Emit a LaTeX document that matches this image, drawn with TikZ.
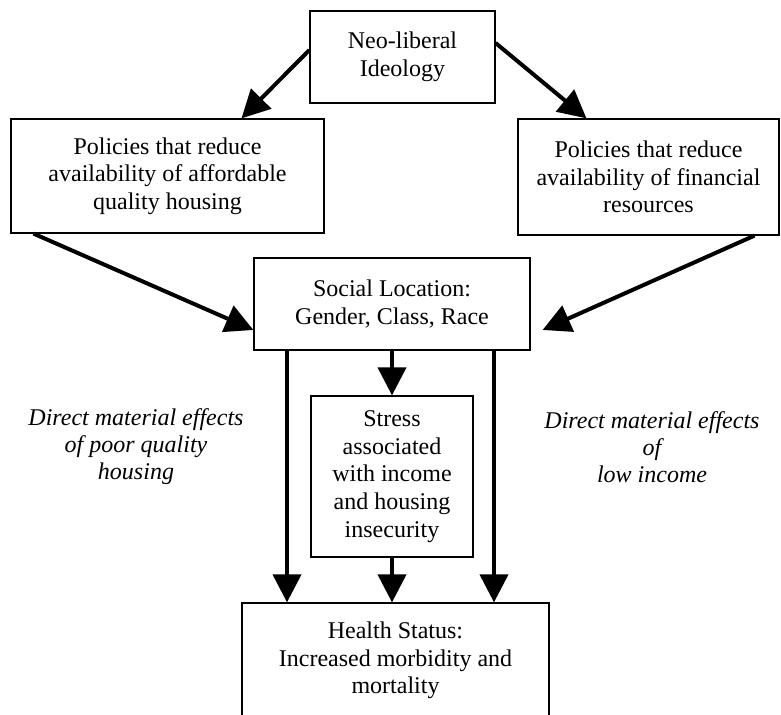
\documentclass[tikz,border=0pt]{standalone}
\usepackage{fontspec}
\setmainfont{Liberation Serif}
\usepackage{tikz}
\usetikzlibrary{shapes,arrows.meta}
\tikzstyle{box} = [rectangle, draw, line width=0.6pt, align=center, inner sep=2pt]
\tikzstyle{effect} = [align=center, font=\fontsize{12}{13.5}\selectfont\itshape]
\tikzstyle{line} = [draw, line width=2pt, -{Triangle[length=14pt,width=14pt]}]

\begin{document}
\begin{tikzpicture}[node distance = 2cm, font=\fontsize{12}{13.8}\selectfont]
    \useasboundingbox (0,0) rectangle (390.5pt,-357.5pt);
    % Place nodes
    \node [box, minimum width=92.5pt, minimum height=46pt] (ideo) at (201.25pt,-28.5pt) {Neo-liberal\\Ideology};
    \node [box, below of=ideo, node distance=59.5pt, xshift=-117.5pt, minimum width=156.5pt, minimum height=57pt] (house) {Policies that reduce\\availability of affordable\\quality housing};
    \node [box, below of=ideo, node distance=60pt, xshift=123pt, minimum width=130.5pt, minimum height=58pt] (money) {Policies that reduce\\availability of financial\\resources};
    \node [box, below of=ideo, node distance=123.5pt, xshift=-5.25pt, minimum width=138pt, minimum height=46pt] (social) {Social Location:\\Gender, Class, Race};
    \node [box, below of=social, node distance=86.25pt, minimum width=81pt, minimum height=80.5pt] (stress) {Stress\\associated\\with income\\and housing\\insecurity};
    \node [box, below of=stress, node distance=92pt, xshift=1.75pt, minimum width=153.5pt, minimum height=57.5pt] (health) {Health Status:\\Increased morbidity and\\mortality};
    \node [effect, left of=stress, node distance=128pt, yshift=14.75pt] (poorhousing) {Direct material effects\\of poor quality\\housing};
    \node [effect, right of=stress, node distance=130pt, yshift=14.75pt] (lowincome) {Direct material effects\\of\\low income};
    \coordinate (sl) at ([xshift=-52.5pt]social.south);
    \coordinate (sr) at ([xshift=51pt]social.south);

    % Draw edges
    \path [line] ([yshift=3.5pt]ideo.west) -- ([xshift=37pt]house.north);
    \path [line] ([yshift=7pt]ideo.east) -- ([xshift=-31pt]money.north);
    \path [line] ([xshift=-67pt]house.south) -- ([yshift=-13pt]social.west);
    \path [line] ([xshift=53pt]money.south) -- ([xshift=6pt,yshift=-13pt]social.east);
    \path [line] (social.south) -- (stress.north);
    \path [line] (sl) -- (sl |- health.north);
    \path [line] (sr) -- (sr |- health.north);
    \path [line] (stress.south) -- (stress.south |- health.north);
\end{tikzpicture}
\end{document}
